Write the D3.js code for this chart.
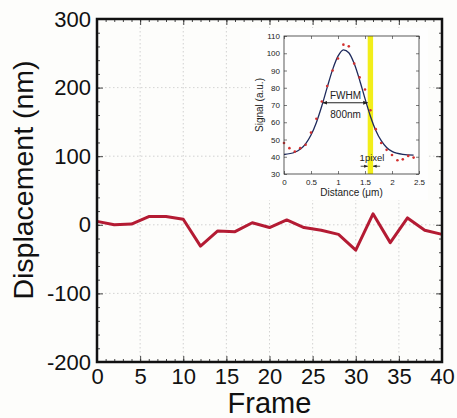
<!DOCTYPE html>
<html>
<head>
<meta charset="utf-8">
<script src="https://cdn.jsdelivr.net/npm/d3@7"></script>
<style>
  body { margin: 0; background: #fdfdfb; }
  svg { display: block; font-family: "Liberation Sans", Arial, sans-serif; }
</style>
</head>
<body>
<svg width="457" height="418"></svg>
<script>
// main chart data
const frames = [0, 2, 4, 6, 8, 10, 12, 14, 16, 18, 20, 22, 24, 26, 28, 30, 32, 34, 36, 38, 40];
const displacement = [5, 0, 1, 12, 12, 8, -31, -9, -10, 3, -4, 7, -4, -8, -14, -37, 16, -26, 10, -8, -14];
const xTicks = [0, 5, 10, 15, 20, 25, 30, 35, 40];
const yTicks = [-200, -100, 0, 100, 200, 300];

const distDots = [0, 0.1, 0.2, 0.3, 0.4, 0.5, 0.6, 0.7, 0.8, 0.9, 1.0, 1.1, 1.2, 1.3, 1.4, 1.5, 1.6, 1.7, 1.8, 1.9, 2.0, 2.1, 2.2, 2.3, 2.4];
const signalDots = [48, 45, 43, 45, 47, 54, 62, 72, 81, 90, 97, 105, 104, 94, 86, 79, 67, 56, 48, 44, 41, 38, 38.5, 40.5, 39.5];
const distFit = [0, 0.2, 0.4, 0.5, 0.6, 0.7, 0.8, 0.9, 1.0, 1.1, 1.2, 1.3, 1.4, 1.5, 1.6, 1.7, 1.8, 1.9, 2.0, 2.2, 2.4];
const signalFit = [41.3, 42.6, 47.5, 52.6, 59.9, 69.4, 80.2, 90.5, 98.3, 102, 100.3, 94, 84.5, 73.7, 63.5, 55.2, 49.3, 45.4, 43.1, 41.4, 41];
const insetXTicks = [0, 0.5, 1, 1.5, 2, 2.5];
const insetYTicks = [30, 40, 50, 60, 70, 80, 90, 100, 110];

const svg = d3.select("svg");
const plain = (d) => String(d); // keep the ascii hyphen for negatives

// scales
const x = d3.scaleLinear().domain([0, 40]).range([97, 442]);
const y = d3.scaleLinear().domain([-200, 300]).range([362, 19]);

// dotted grid
const grid = svg.append("g")
  .attr("stroke", "#c8c8c8")
  .attr("stroke-width", 0.8)
  .attr("stroke-dasharray", "1.5,2.5");
grid.selectAll(".gx")
  .data(xTicks.slice(1, -1))
  .enter().append("line")
    .attr("x1", (d) => x(d)).attr("x2", (d) => x(d))
    .attr("y1", y(300)).attr("y2", y(-200));
grid.selectAll(".gy")
  .data(yTicks.slice(1, -1))
  .enter().append("line")
    .attr("x1", x(0)).attr("x2", x(40))
    .attr("y1", (d) => y(d)).attr("y2", (d) => y(d));

// minor + major ticks (inward, all four sides)
const addTicks = (axis, pos) => {
  svg.append("g")
    .attr("transform", pos)
    .call(axis)
    .call((g) => g.select(".domain").remove())
    .call((g) => g.selectAll("text").remove())
    .call((g) => g.selectAll("line").attr("stroke", "#333").attr("stroke-width", 0.9));
};
const minorX = d3.range(0, 41, 1);
const minorY = d3.range(-200, 301, 20);
addTicks(d3.axisBottom(x).tickValues(minorX).tickSize(-3), `translate(0,${y(-200)})`);
addTicks(d3.axisTop(x).tickValues(minorX).tickSize(-3), `translate(0,${y(300)})`);
addTicks(d3.axisLeft(y).tickValues(minorY).tickSize(-3), `translate(${x(0)},0)`);
addTicks(d3.axisRight(y).tickValues(minorY).tickSize(-3), `translate(${x(40)},0)`);
addTicks(d3.axisBottom(x).tickValues(xTicks).tickSize(-6), `translate(0,${y(-200)})`);
addTicks(d3.axisTop(x).tickValues(xTicks).tickSize(-6), `translate(0,${y(300)})`);
addTicks(d3.axisLeft(y).tickValues(yTicks).tickSize(-6), `translate(${x(0)},0)`);
addTicks(d3.axisRight(y).tickValues(yTicks).tickSize(-6), `translate(${x(40)},0)`);

// ----- inset -----
const ix = d3.scaleLinear().domain([0, 2.5]).range([284, 419]);
const iy = d3.scaleLinear().domain([30, 110]).range([174, 36]);

svg.append("rect")
  .attr("x", 250).attr("y", 28)
  .attr("width", 178).attr("height", 172)
  .attr("fill", "#fefefe");

// yellow pixel band
svg.append("rect")
  .attr("x", ix(1.55)).attr("y", iy(110))
  .attr("width", ix(1.65) - ix(1.55))
  .attr("height", iy(30) - iy(110))
  .attr("fill", "#f2ee1a");

// fitted curve
const fitLine = d3.line()
  .x((d, i) => ix(distFit[i]))
  .y((d) => iy(d))
  .curve(d3.curveMonotoneX);
svg.append("path")
  .attr("d", fitLine(signalFit))
  .attr("fill", "none")
  .attr("stroke", "#1e2a5c")
  .attr("stroke-width", 1.3);

// measured dots
svg.append("g")
  .selectAll("circle")
  .data(signalDots)
  .enter().append("circle")
    .attr("cx", (d, i) => ix(distDots[i]))
    .attr("cy", (d) => iy(d))
    .attr("r", 1.3)
    .attr("fill", "#d2302f");

// inset axes
const insetAxis = (axis, pos, withText) => {
  const g = svg.append("g")
    .attr("transform", pos)
    .style("font-family", "'Liberation Sans', Arial, sans-serif")
    .style("font-size", "8px")
    .call(axis);
  g.select(".domain").remove();
  g.selectAll("line").attr("stroke", "#444").attr("stroke-width", 0.7);
  if (!withText) g.selectAll("text").remove();
  g.selectAll("text").attr("fill", "#222");
  return g;
};
insetAxis(d3.axisBottom(ix).tickValues(insetXTicks).tickSize(-3).tickPadding(5).tickFormat(plain), `translate(0,${iy(30)})`, true);
insetAxis(d3.axisTop(ix).tickValues(insetXTicks).tickSize(-3), `translate(0,${iy(110)})`, false);
insetAxis(d3.axisLeft(iy).tickValues(insetYTicks).tickSize(-3).tickPadding(4).tickFormat(plain), `translate(${ix(0)},0)`, true);
insetAxis(d3.axisRight(iy).tickValues(insetYTicks).tickSize(-3), `translate(${ix(2.5)},0)`, false);

svg.append("rect")
  .attr("x", ix(0)).attr("y", iy(110))
  .attr("width", ix(2.5) - ix(0))
  .attr("height", iy(30) - iy(110))
  .attr("fill", "none")
  .attr("stroke", "#333")
  .attr("stroke-width", 0.8);

svg.append("text")
  .attr("transform", `translate(263,${(iy(30) + iy(110)) / 2}) rotate(-90)`)
  .attr("text-anchor", "middle")
  .attr("font-size", 10)
  .attr("fill", "#222")
  .text("Signal (a.u.)");
svg.append("text")
  .attr("x", (ix(0) + ix(2.5)) / 2)
  .attr("y", 196)
  .attr("text-anchor", "middle")
  .attr("font-size", 10)
  .attr("fill", "#222")
  .text("Distance (\u03bcm)");

// FWHM annotation
const arrow = svg.append("defs");
arrow.append("marker")
  .attr("id", "ah")
  .attr("viewBox", "0 0 10 10")
  .attr("refX", 9).attr("refY", 5)
  .attr("markerWidth", 5).attr("markerHeight", 5)
  .attr("orient", "auto-start-reverse")
  .append("path")
    .attr("d", "M0,1 L10,5 L0,9 z")
    .attr("fill", "#222");

svg.append("line")
  .attr("x1", ix(0.72)).attr("x2", ix(1.55))
  .attr("y1", iy(71.3)).attr("y2", iy(71.3))
  .attr("stroke", "#222").attr("stroke-width", 1)
  .attr("marker-start", "url(#ah)")
  .attr("marker-end", "url(#ah)");
svg.append("text")
  .attr("x", ix(1.14)).attr("y", iy(73.5))
  .attr("text-anchor", "middle")
  .attr("font-size", 10).attr("fill", "#222")
  .text("FWHM");
svg.append("text")
  .attr("x", ix(1.14)).attr("y", iy(62.5))
  .attr("text-anchor", "middle")
  .attr("font-size", 10).attr("fill", "#222")
  .text("800nm");

// 1 pixel annotation
svg.append("text")
  .attr("x", ix(1.63)).attr("y", iy(37.8))
  .attr("text-anchor", "middle")
  .attr("font-size", 9.5).attr("fill", "#222")
  .text("1pixel");
svg.append("line")
  .attr("x1", ix(1.42)).attr("x2", ix(1.55))
  .attr("y1", iy(34.5)).attr("y2", iy(34.5))
  .attr("stroke", "#222").attr("stroke-width", 0.8)
  .attr("marker-end", "url(#ah)");
svg.append("line")
  .attr("x1", ix(1.78)).attr("x2", ix(1.65))
  .attr("y1", iy(34.5)).attr("y2", iy(34.5))
  .attr("stroke", "#222").attr("stroke-width", 0.8)
  .attr("marker-end", "url(#ah)");

// ----- main series -----
const line = d3.line()
  .x((d, i) => x(frames[i]))
  .y((d) => y(d));
svg.append("path")
  .attr("d", line(displacement))
  .attr("fill", "none")
  .attr("stroke", "#b41b33")
  .attr("stroke-width", 3)
  .attr("stroke-linejoin", "round");

// frame
svg.append("rect")
  .attr("x", x(0)).attr("y", y(300))
  .attr("width", x(40) - x(0))
  .attr("height", y(-200) - y(300))
  .attr("fill", "none")
  .attr("stroke", "#111")
  .attr("stroke-width", 2.5);

// tick labels
svg.append("g")
  .attr("transform", `translate(0,${y(-200)})`)
  .style("font-family", "'Liberation Sans', Arial, sans-serif")
  .style("font-size", "22px")
  .call(d3.axisBottom(x).tickValues(xTicks).tickSize(0).tickPadding(6).tickFormat(plain))
  .call((g) => g.select(".domain").remove())
  .call((g) => g.selectAll("text").attr("fill", "#111"));
svg.append("g")
  .attr("transform", `translate(${x(0)},0)`)
  .style("font-family", "'Liberation Sans', Arial, sans-serif")
  .style("font-size", "22px")
  .call(d3.axisLeft(y).tickValues(yTicks).tickSize(0).tickPadding(6).tickFormat(plain))
  .call((g) => g.select(".domain").remove())
  .call((g) => g.selectAll("text").attr("fill", "#111"));

// axis titles
svg.append("text")
  .attr("x", (x(0) + x(40)) / 2)
  .attr("y", 413)
  .attr("text-anchor", "middle")
  .attr("font-size", 29)
  .attr("fill", "#111")
  .text("Frame");
svg.append("text")
  .attr("transform", `translate(33,180) rotate(-90)`)
  .attr("text-anchor", "middle")
  .attr("font-size", 28.5)
  .attr("fill", "#111")
  .text("Displacement (nm)");
</script>
</body>
</html>
